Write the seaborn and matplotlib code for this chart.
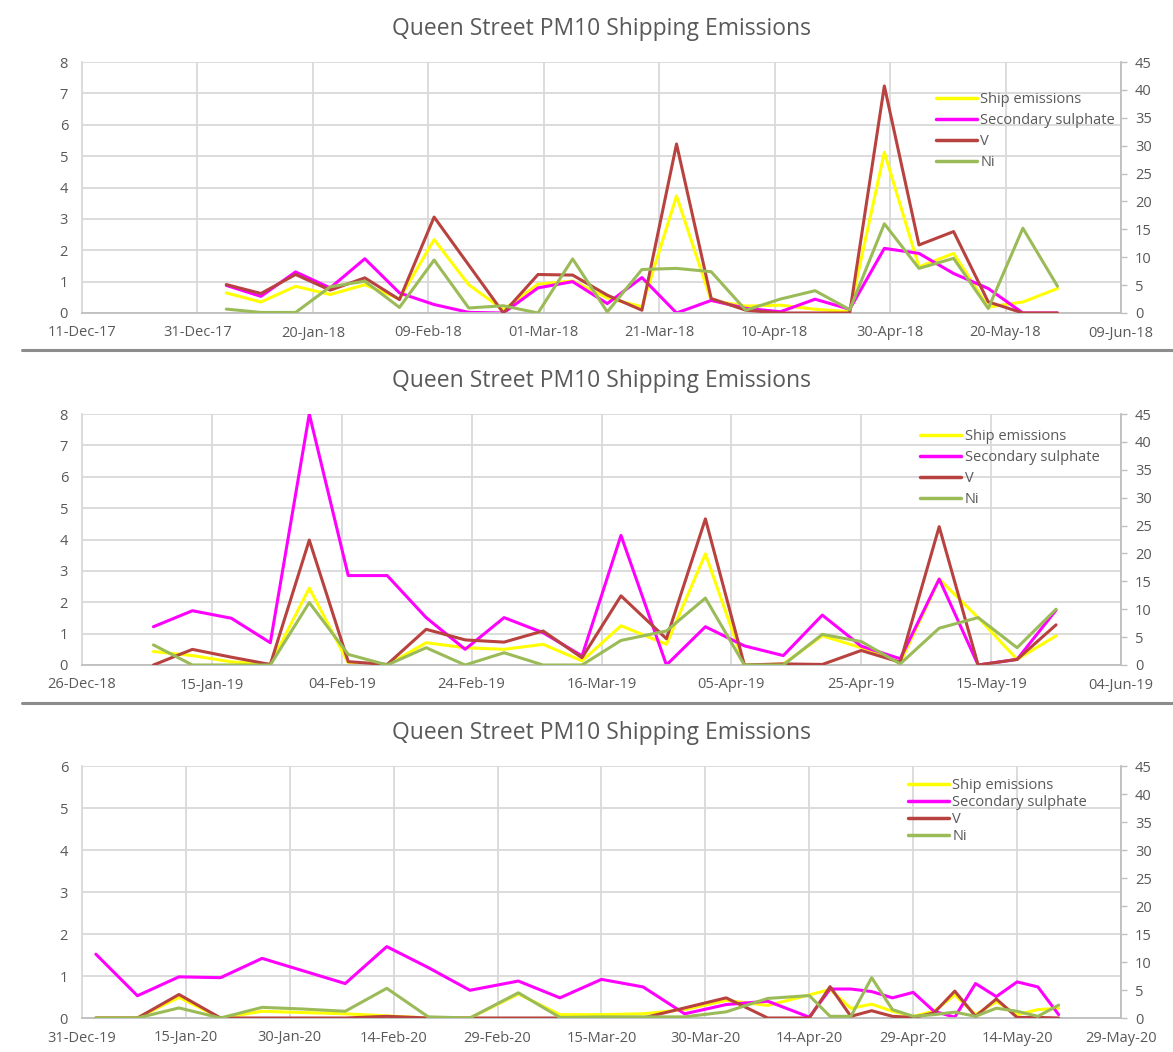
"""Queen Street PM10 shipping emissions, three sampling seasons (2018-2020).

Left axis: ship emissions / secondary sulphate, right axis: V and Ni.
Run: python plot.py  ->  out.png
"""

import matplotlib
matplotlib.use("Agg")
import matplotlib.dates as mdates
import matplotlib.pyplot as plt
import pandas as pd
import seaborn as sns
from matplotlib.lines import Line2D

# ---- 2018 season (1-in-6 day samples) ----
dates_2018 = pd.date_range("2018-01-05", periods=25, freq="6D")
ship_2018 = [0.64, 0.35, 0.85, 0.59, 0.90, 0.45, 2.34, 0.90, 0.10, 0.92, 1.02, 0.48, 0.20,
             3.73, 0.40, 0.22, 0.25, 0.12, 0.04, 5.12, 1.47, 1.90, 0.19, 0.35, 0.78]
sulph_2018 = [0.88, 0.53, 1.31, 0.80, 1.73, 0.64, 0.27, 0.02, 0.00, 0.80, 1.00, 0.30, 1.13,
              0.00, 0.40, 0.15, 0.04, 0.44, 0.12, 2.06, 1.90, 1.26, 0.78, 0.00, 0.00]
v_2018 = [5.1, 3.5, 6.9, 4.1, 6.3, 2.4, 17.2, 8.6, 0.0, 6.9, 6.8, 3.2, 0.5,
          30.3, 2.6, 0.5, 0.0, 0.0, 0.0, 40.7, 12.2, 14.6, 2.0, 0.0, 0.0]
ni_2018 = [0.7, 0.1, 0.1, 4.7, 5.7, 1.0, 9.5, 0.9, 1.3, 0.0, 9.7, 0.2, 7.8,
           8.0, 7.4, 0.5, 2.5, 4.0, 0.6, 16.0, 8.0, 9.8, 0.8, 15.2, 4.8]

# ---- 2019 season ----
dates_2019 = pd.to_datetime([
    "2019-01-06", "2019-01-12", "2019-01-18", "2019-01-24", "2019-01-30", "2019-02-05",
    "2019-02-11", "2019-02-17", "2019-02-23", "2019-03-01", "2019-03-07", "2019-03-13",
    "2019-03-19", "2019-03-26", "2019-04-01", "2019-04-07", "2019-04-13", "2019-04-19",
    "2019-04-25", "2019-05-01", "2019-05-07", "2019-05-13", "2019-05-19", "2019-05-25",
])
ship_2019 = [0.43, 0.30, 0.10, 0.02, 2.45, 0.07, 0.00, 0.71, 0.55, 0.50, 0.66, 0.13,
             1.25, 0.66, 3.54, 0.00, 0.03, 0.93, 0.55, 0.07, 2.74, 1.51, 0.18, 0.93]
sulph_2019 = [1.22, 1.73, 1.49, 0.71, 8.00, 2.85, 2.85, 1.51, 0.50, 1.51, 1.03, 0.29,
              4.13, 0.00, 1.22, 0.61, 0.30, 1.59, 0.60, 0.20, 2.74, 0.00, 0.18, 1.75]
v_2019 = [0.0, 2.8, 1.4, 0.1, 22.4, 0.6, 0.1, 6.4, 4.5, 4.1, 6.1, 1.3,
          12.4, 4.7, 26.2, 0.0, 0.2, 0.1, 2.6, 0.5, 24.8, 0.0, 1.0, 7.2]
ni_2019 = [3.6, 0.0, 0.0, 0.0, 11.2, 1.9, 0.0, 3.1, 0.0, 2.2, 0.0, 0.0,
           4.4, 6.1, 12.0, 0.0, 0.0, 5.5, 4.2, 0.2, 6.6, 8.5, 3.1, 10.0]

# ---- 2020 season (1-in-3 day from mid April) ----
dates_2020 = pd.to_datetime([
    "2020-01-02", "2020-01-08", "2020-01-14", "2020-01-20", "2020-01-26", "2020-02-01",
    "2020-02-07", "2020-02-13", "2020-02-19", "2020-02-25", "2020-03-03", "2020-03-09",
    "2020-03-15", "2020-03-21", "2020-03-27", "2020-04-02", "2020-04-08", "2020-04-14",
    "2020-04-17", "2020-04-20", "2020-04-23", "2020-04-26", "2020-04-29", "2020-05-02",
    "2020-05-05", "2020-05-08", "2020-05-11", "2020-05-14", "2020-05-17", "2020-05-20",
])
ship_2020 = [0.00, 0.00, 0.49, 0.00, 0.16, 0.13, 0.10, 0.05, 0.00, 0.00, 0.57, 0.08,
             0.08, 0.10, 0.20, 0.42, 0.30, 0.55, 0.68, 0.23, 0.33, 0.16, 0.04, 0.16,
             0.55, 0.08, 0.39, 0.08, 0.20, 0.23]
sulph_2020 = [1.52, 0.53, 0.98, 0.96, 1.42, 1.12, 0.82, 1.70, 1.20, 0.66, 0.88, 0.48,
              0.92, 0.74, 0.10, 0.32, 0.40, 0.02, 0.69, 0.69, 0.63, 0.48, 0.61, 0.16,
              0.02, 0.82, 0.51, 0.86, 0.74, 0.08]
v_2020 = [0.0, 0.0, 4.2, 0.0, 0.0, 0.0, 0.0, 0.3, 0.0, 0.0, 0.0, 0.0,
          0.0, 0.0, 1.8, 3.6, 0.0, 0.0, 5.6, 0.3, 1.3, 0.3, 0.1, 0.9,
          4.8, 0.3, 3.4, 0.1, 0.1, 0.0]
ni_2020 = [0.0, 0.0, 1.8, 0.0, 1.9, 1.6, 1.2, 5.3, 0.2, 0.0, 4.5, 0.1,
           0.2, 0.2, 0.2, 1.1, 3.5, 4.0, 0.3, 0.3, 7.2, 1.5, 0.3, 0.6,
           1.05, 0.3, 1.75, 1.2, 0.3, 2.3]

TITLE = "Queen Street PM10 Shipping Emissions"
LABELS = ["Ship emissions", "Secondary sulphate", "V", "Ni"]
COLORS = ["#FFFF00", "#FF00FF", "#B8423F", "#9BBB59"]
TEXT = "#595959"
GRID = "#d9d9d9"
AXIS = "#bfbfbf"
LW = 2.2
FS = 10.5

sns.set_theme(style="white")
plt.rcParams["font.family"] = ["Open Sans", "DejaVu Sans"]

W, H = 1173, 1052


def draw_panel(fig, top_px, bottom_px, dates, series, left_max, ticks, legend_anchor, legend_spacing):
    left, right = 82, 1121
    ax = fig.add_axes([left / W, 1 - bottom_px / H, (right - left) / W, (bottom_px - top_px) / H])
    ax2 = ax.twinx()

    ship, sulph, v, ni = series
    sns.lineplot(x=dates, y=ship, ax=ax, color=COLORS[0], linewidth=LW, legend=False)
    sns.lineplot(x=dates, y=sulph, ax=ax, color=COLORS[1], linewidth=LW, legend=False)
    sns.lineplot(x=dates, y=v, ax=ax2, color=COLORS[2], linewidth=LW, legend=False)
    sns.lineplot(x=dates, y=ni, ax=ax2, color=COLORS[3], linewidth=LW, legend=False)

    ax.set_xlim(ticks[0], ticks[-1])
    ax.set_xticks(ticks)
    ax.xaxis.set_major_formatter(mdates.DateFormatter("%d-%b-%y"))
    ax.set_ylim(0, left_max)
    ax.set_yticks(range(0, left_max + 1))
    ax2.set_ylim(0, 45)
    ax2.set_yticks(range(0, 46, 5))

    ax.grid(True, color=GRID, linewidth=1.3)
    ax.set_xlabel("")
    ax.set_ylabel("")
    ax2.set_ylabel("")
    ax.tick_params(axis="x", length=0, pad=9, labelsize=FS, labelcolor=TEXT)
    ax.tick_params(axis="y", length=0, pad=10, labelsize=FS, labelcolor=TEXT)
    ax2.tick_params(axis="y", length=4, width=1, color=AXIS, pad=6, labelsize=FS, labelcolor=TEXT)

    for name in ["top", "right"]:
        ax.spines[name].set_visible(False)
    ax.spines["left"].set_color(GRID)
    ax.spines["bottom"].set_color(AXIS)
    for name in ["top", "left", "bottom"]:
        ax2.spines[name].set_visible(False)
    ax2.spines["right"].set_color(AXIS)
    for sp in list(ax.spines.values()) + list(ax2.spines.values()):
        sp.set_linewidth(1.3)

    handles = [Line2D([], [], color=c, linewidth=LW + 0.3) for c in COLORS]
    leg = ax2.legend(handles, LABELS, loc="upper right", bbox_to_anchor=legend_anchor,
                     frameon=False, fontsize=FS, handlelength=2.8, handletextpad=0.25,
                     labelspacing=legend_spacing, borderpad=0.2, borderaxespad=0)
    for t in leg.get_texts():
        t.set_color(TEXT)

    fig.text(0.5128, 1 - (top_px - 33) / H, TITLE, ha="center", va="center",
             fontsize=16.5, color=TEXT)


def main():
    fig = plt.figure(figsize=(W / 100, H / 100), dpi=100)

    draw_panel(fig, 62, 313, dates_2018, (ship_2018, sulph_2018, v_2018, ni_2018), 8,
               pd.date_range("2017-12-11", "2018-06-09", freq="20D"), (0.997, 0.893), 0.42)
    draw_panel(fig, 414, 665, dates_2019, (ship_2019, sulph_2019, v_2019, ni_2019), 8,
               pd.date_range("2018-12-26", "2019-06-04", freq="20D"), (0.982, 0.950), 0.40)
    draw_panel(fig, 766, 1018, dates_2020, (ship_2020, sulph_2020, v_2020, ni_2020), 6,
               pd.date_range("2019-12-31", "2020-05-29", freq="15D"), (0.97, 0.963), 0.14)

    # grey separators between the three charts
    for y_px in (350, 703):
        fig.add_artist(Line2D([22 / W, 1.0], [1 - y_px / H, 1 - y_px / H],
                              transform=fig.transFigure, color="#8c8c8c", linewidth=2.2))

    fig.savefig("out.png", dpi=100)
    plt.close(fig)


if __name__ == "__main__":
    main()
